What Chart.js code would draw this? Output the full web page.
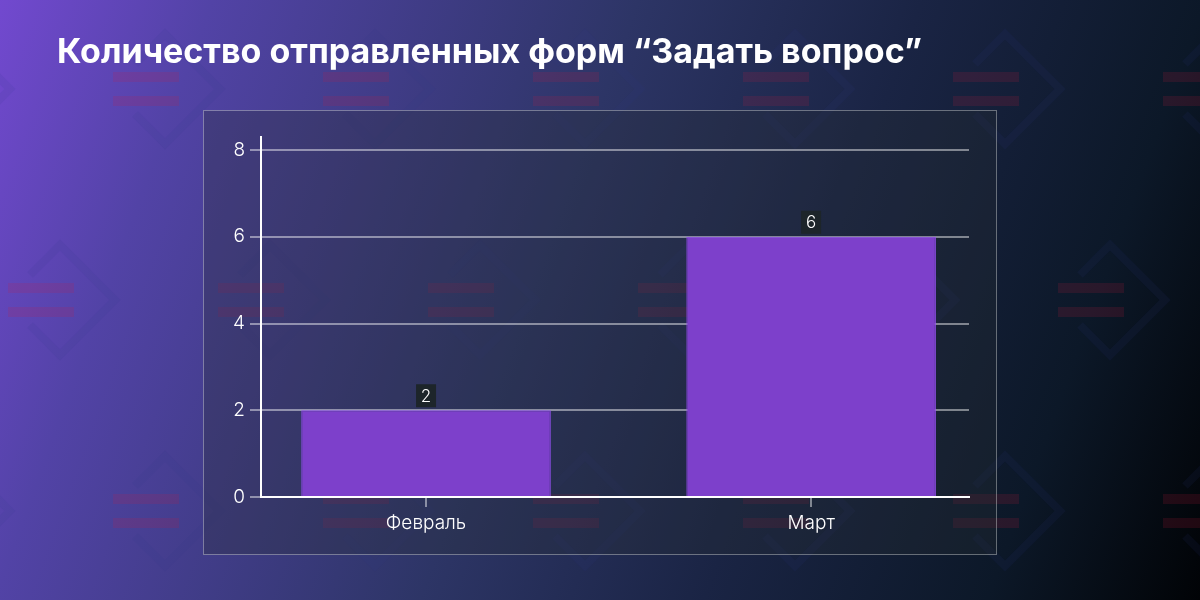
<!DOCTYPE html>
<html lang="ru">
<head>
<meta charset="utf-8">
<title>Количество отправленных форм</title>
<script src="https://cdn.jsdelivr.net/npm/chart.js@4.4.1/dist/chart.umd.min.js"></script>
<style>
  html, body { margin: 0; padding: 0; }
  body {
    width: 1200px; height: 600px; position: relative; overflow: hidden;
    background: linear-gradient(110deg, #7249cf 0%, #5243a6 15%, #2d3566 45%, #1a2444 65%, #0c1828 85%, #010306 100%);
    font-family: Inter, "Noto Sans", sans-serif;
  }
  #pattern { position: absolute; left: 0; top: 0; }
  #title {
    position: absolute; left: 57px; top: 31px;
    color: #fff; font-weight: 700; font-size: 34px; line-height: 40px;
    white-space: nowrap;
  }
  #panel {
    position: absolute; left: 203px; top: 110px; width: 794px; height: 445px;
    box-sizing: border-box;
    border: 1px solid rgba(255,255,255,0.35);
    background: rgba(40,45,50,0.3);
  }
  #chartWrap { position: absolute; left: 0; top: 0; width: 1200px; height: 600px; }
</style>
</head>
<body>
<canvas id="pattern" width="1200" height="600"></canvas>
<div id="title">Количество отправленных форм “Задать вопрос”</div>
<div id="panel"></div>
<div id="chartWrap"><canvas id="myChart"></canvas></div>
<script>
// data
const months = ["Февраль", "Март"]
const formsSent = [2, 6]
const yTicks = [0, 2, 4, 6, 8]

// background pattern (decoration only)
const pctx = document.getElementById('pattern').getContext('2d')
for (let r = -1; r <= 3; r++) {
    const y0 = 72 + r * 211
    const xStart = (r % 2 === 0) ? 113 : 8
    for (let k = -1; k <= 6; k++) {
        const x0 = xStart + k * 210
        pctx.strokeStyle = "rgba(50,55,140,0.1)"
        pctx.lineWidth = 8
        pctx.beginPath()
        pctx.moveTo(x0 + 22, y0 - 8)
        pctx.lineTo(x0 + 52, y0 - 38)
        pctx.lineTo(x0 + 107, y0 + 17)
        pctx.lineTo(x0 + 52, y0 + 72)
        pctx.lineTo(x0 + 22, y0 + 42)
        pctx.stroke()
        pctx.fillStyle = "rgba(210,30,60,0.15)"
        pctx.fillRect(x0, y0, 66, 10)
        pctx.fillRect(x0, y0 + 24, 66, 10)
    }
}

const gridGrey = "rgba(255,255,255,0.45)"
const tickFont = { family: 'Inter, "Noto Sans", sans-serif', size: 19, weight: 300 }

// value boxes above the bars
const valueBoxes = {
    id: 'valueBoxes',
    afterDatasetsDraw(chart) {
        const ctx = chart.ctx
        const meta = chart.getDatasetMeta(0)
        ctx.save()
        ctx.font = '300 17px Inter, "Noto Sans", sans-serif'
        ctx.textAlign = 'center'
        ctx.textBaseline = 'middle'
        meta.data.forEach((bar, i) => {
            const w = 20, h = 23
            const bottom = bar.y - 3
            ctx.fillStyle = "#1d252a"
            ctx.fillRect(bar.x - w / 2, bottom - h, w, h)
            ctx.fillStyle = "#ffffff"
            ctx.fillText(String(chart.data.datasets[0].data[i].y), bar.x, bottom - h / 2 + 1)
        })
        ctx.restore()
    }
}

const ctx = document.getElementById('myChart').getContext('2d')
new Chart(ctx, {
    type: 'bar',
    data: {
        datasets: [{
            data: formsSent.map((v, i) => ({ x: i, y: v })),
            backgroundColor: "#7d40cb",
            borderColor: "#9250ee",
            borderWidth: 1,
            barPercentage: 0.9,
            categoryPercentage: 0.72
        }]
    },
    options: {
        responsive: true,
        maintainAspectRatio: false,
        animation: false,
        layout: { padding: { left: 203, right: 231, top: 137, bottom: 53 } },
        plugins: {
            legend: { display: false },
            tooltip: { enabled: false },
            title: { display: false }
        },
        scales: {
            x: {
                type: 'linear',
                offset: false,
                min: -0.4286,
                max: 1.41,
                afterBuildTicks: (scale) => { scale.ticks = months.map((m, i) => ({ value: i })) },
                afterFit: (scale) => { scale.height = 50 },
                grid: {
                    offset: false,
                    drawOnChartArea: false,
                    drawTicks: true,
                    tickLength: 10,
                    tickColor: gridGrey,
                    tickWidth: 2,
                    color: gridGrey,
                    lineWidth: 2
                },
                border: { display: true, color: "#ffffff", width: 2 },
                ticks: {
                    color: "#ffffff",
                    font: tickFont,
                    padding: 5,
                    maxRotation: 0,
                    callback: (v) => months[v]
                }
            },
            y: {
                type: 'linear',
                min: 0,
                max: 8.3,
                afterBuildTicks: (scale) => { scale.ticks = yTicks.map(v => ({ value: v })) },
                afterFit: (scale) => { scale.width = 58 },
                grid: {
                    color: gridGrey,
                    lineWidth: 2,
                    tickLength: 11
                },
                border: { display: true, color: "#ffffff", width: 2 },
                ticks: {
                    color: "#ffffff",
                    font: tickFont,
                    padding: 5
                }
            }
        }
    },
    plugins: [valueBoxes]
})
</script>
</body>
</html>
